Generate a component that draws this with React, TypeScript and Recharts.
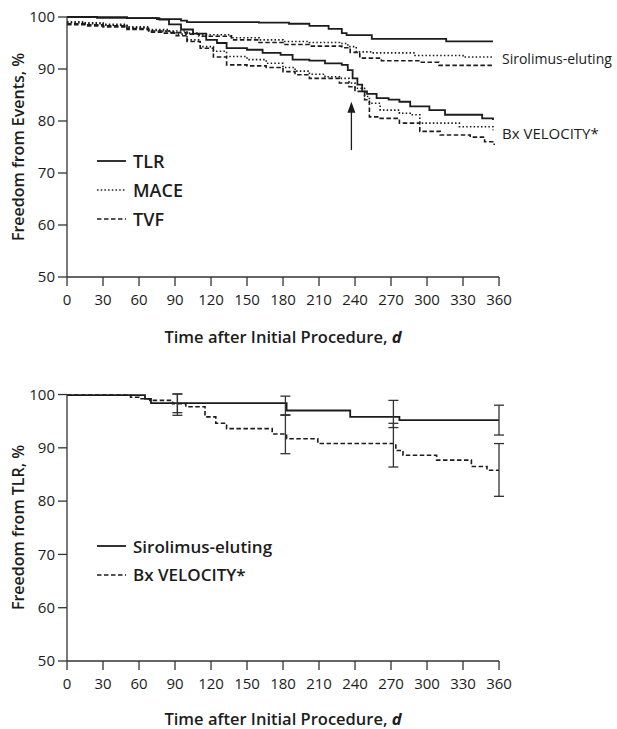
import { LineChart, Line, XAxis, YAxis, Scatter, ErrorBar, Legend, ReferenceLine, ReferenceDot } from 'recharts'

type Pt = [number, number]

// top panel: Kaplan-Meier freedom from events, %
const sirTlr: Pt[] = [[0, 100], [25, 99.9], [50, 99.8], [75, 99.6], [95, 99.3], [100, 99.0], [160, 98.9], [185, 98.7], [202, 98.3], [218, 97.7], [229, 96.9], [233, 96.5], [254, 95.8], [316, 95.3], [355, 95.3]]
const sirMace: Pt[] = [[0, 99.1], [15, 98.9], [30, 98.6], [50, 98.1], [68, 97.6], [85, 97.3], [100, 96.9], [110, 96.6], [137, 96.0], [160, 95.6], [180, 95.3], [202, 95.1], [227, 94.9], [234, 94.3], [241, 93.3], [254, 93.1], [290, 92.6], [330, 92.3], [355, 92.1]]
const sirTvf: Pt[] = [[0, 98.7], [15, 98.5], [30, 98.3], [50, 97.8], [68, 97.3], [85, 97.0], [100, 96.7], [110, 96.3], [137, 95.6], [160, 95.1], [180, 94.7], [202, 94.4], [229, 94.1], [236, 93.2], [244, 92.1], [262, 91.6], [294, 91.3], [310, 90.7], [355, 90.5]]
const bxTlr: Pt[] = [[0, 100], [25, 99.9], [50, 99.8], [77, 99.5], [85, 98.6], [95, 97.6], [105, 96.8], [116, 95.6], [125, 95.0], [133, 94.0], [150, 93.7], [163, 93.1], [178, 92.7], [188, 91.8], [202, 91.6], [215, 91.1], [229, 90.8], [234, 89.8], [238, 88.2], [242, 87.0], [246, 85.7], [250, 85.2], [258, 84.4], [268, 84.1], [277, 83.7], [286, 82.8], [302, 82.1], [315, 81.2], [331, 81.2], [346, 80.5], [355, 80.2]]
const bxMace: Pt[] = [[0, 98.9], [15, 98.7], [30, 98.4], [50, 97.9], [68, 97.4], [80, 97.2], [91, 96.7], [100, 95.6], [111, 94.3], [122, 93.4], [133, 92.4], [150, 91.8], [166, 91.1], [180, 90.3], [190, 89.6], [202, 89.0], [215, 88.5], [227, 88.2], [235, 87.3], [240, 86.3], [248, 84.7], [252, 83.4], [261, 82.1], [277, 81.5], [286, 81.2], [294, 79.6], [327, 78.9], [355, 78.2]]
const bxTvf: Pt[] = [[0, 98.5], [15, 98.3], [30, 98.1], [50, 97.6], [68, 97.1], [80, 96.9], [91, 96.4], [100, 95.3], [111, 94.0], [122, 92.3], [133, 90.8], [150, 90.6], [166, 90.3], [180, 89.5], [190, 88.9], [202, 88.2], [227, 87.3], [235, 86.6], [240, 85.7], [248, 84.1], [252, 80.8], [261, 80.5], [277, 79.6], [294, 78.0], [311, 77.3], [336, 76.9], [348, 76.0], [356, 75.4]]

// bottom panel: freedom from TLR, %
const sirTlr2: Pt[] = [[0, 99.9], [65, 99.2], [70, 98.4], [183, 97.0], [236, 95.8], [277, 95.2], [360, 95.2]]
const bxTlr2: Pt[] = [[0, 99.9], [53, 99.5], [60, 99.2], [69, 98.9], [88, 98.3], [99, 97.7], [115, 95.8], [124, 94.6], [133, 93.6], [171, 92.6], [183, 91.7], [209, 90.8], [274, 89.5], [280, 88.6], [308, 87.7], [337, 86.5], [350, 85.8], [360, 85.8]]

// confidence bars in the bottom panel
const ciDays = [92, 182, 272, 360]
const sirCiVal = [98.4, 98.3, 95.8, 95.2]
const sirCiLo = [96.6, 96.2, 93.8, 92.4]
const sirCiHi = [100.1, 99.7, 98.9, 98.0]
const bxCiVal = [98.3, 92.3, 90.8, 85.8]
const bxCiLo = [96.1, 88.9, 86.4, 80.9]
const bxCiHi = [100.1, 96.1, 94.6, 90.8]

const xTicks = [0, 30, 60, 90, 120, 150, 180, 210, 240, 270, 300, 330, 360]
const yTicks = [50, 60, 70, 80, 90, 100]

const topLegendNames = ['TLR', 'MACE', 'TVF']
const groupNames = ['Sirolimus-eluting', 'Bx VELOCITY*']

// arrow marking day 240
const arrowDay = 237
const arrowTail = 74.4
const arrowTip = 83.7

const FONT = '"Open Sans", "Noto Sans", sans-serif'
const INK = '#1c1c1c'
const AXIS = '#333'
const SOLID = { strokeWidth: 1.8 }
const DOTTED = { strokeWidth: 1.6, strokeDasharray: '1.5 2.2' }
const DASHED = { strokeWidth: 1.6, strokeDasharray: '4.5 2.5' }

const toRows = (pts: Pt[]) => pts.map(([day, v]) => ({ day, v }))
const ciRows = (val: number[], lo: number[], hi: number[]) =>
  ciDays.map((day, i) => ({ day, v: val[i], err: [val[i] - lo[i], hi[i] - val[i]] }))

function LegendBlock({ items, rowH, size }: { items: { label: string; style: any }[]; rowH: number; size: number }) {
  return (
    <div style={{ fontFamily: FONT }}>
      {items.map(it => (
        <div key={it.label} style={{ display: 'flex', alignItems: 'center', height: rowH }}>
          <svg width={29} height={6}>
            <line x1={0} y1={3} x2={29} y2={3} stroke={INK} {...it.style} />
          </svg>
          <span style={{ marginLeft: 7, fontSize: size, fontWeight: 600, color: INK }}>{it.label}</span>
        </div>
      ))}
    </div>
  )
}

const xTitle = (offset: number) => (props: any) => {
  const { x, y, width } = props.viewBox
  return (
    <text x={x + width / 2} y={y + offset} textAnchor="middle" dominantBaseline="central"
      fontFamily={FONT} fontSize={16.5} fontWeight={600} fill={INK}>
      Time after Initial Procedure, <tspan fontStyle="italic" fontWeight={700}>d</tspan>
    </text>
  )
}

const yTitle = (text: string) => (props: any) => {
  const { y, height } = props.viewBox
  const cy = y + height / 2
  return (
    <text x={18} y={cy} transform={`rotate(-90, 18, ${cy})`} textAnchor="middle" dominantBaseline="central"
      fontFamily={FONT} fontSize={16} fontWeight={600} fill={INK}>
      {text}
    </text>
  )
}

const endLabel = (text: string, last: number, dy: number, size: number) => (props: any) => {
  if (props.index !== last) return null
  return (
    <text x={props.x + 9} y={props.y + dy} dominantBaseline="central"
      fontFamily={FONT} fontSize={size} fontWeight={500} fill={INK}>
      {text}
    </text>
  )
}

const tickStyle = { fill: INK, fontSize: 15, fontFamily: FONT }
const axisLine = { stroke: AXIS, strokeWidth: 1.3 }

export default function App() {
  const lineProps = { type: 'stepAfter' as const, dataKey: 'v', stroke: INK, dot: false, isAnimationActive: false, activeDot: false }
  const topLegend = topLegendNames.map((label, i) => ({ label, style: [SOLID, DOTTED, DASHED][i] }))
  const botLegend = groupNames.map((label, i) => ({ label, style: [SOLID, DASHED][i] }))

  return (
    <div style={{ position: 'absolute', left: 0, top: 0, width: 617, height: 729, background: '#fff' }}>
      <div style={{ position: 'absolute', left: 0, top: 0 }}>
        <LineChart width={617} height={350} margin={{ top: 17, right: 118, bottom: 0, left: 0 }}>
          <XAxis type="number" dataKey="day" domain={[0, 360]} ticks={xTicks} tick={tickStyle}
            tickSize={9} tickMargin={8} axisLine={axisLine} tickLine={axisLine}
            height={73} label={xTitle(59)} />
          <YAxis type="number" domain={[50, 100]} ticks={yTicks} tick={tickStyle} width={67}
            tickSize={9} tickMargin={3} axisLine={axisLine} tickLine={axisLine}
            label={yTitle('Freedom from Events, %')} />
          <Line {...lineProps} data={toRows(sirTlr)} {...SOLID} />
          <Line {...lineProps} data={toRows(sirMace)} {...DOTTED}
            label={endLabel(groupNames[0], sirMace.length - 1, 0, 14)} />
          <Line {...lineProps} data={toRows(sirTvf)} {...DASHED} />
          <Line {...lineProps} data={toRows(bxTlr)} {...SOLID} />
          <Line {...lineProps} data={toRows(bxMace)} {...DOTTED}
            label={endLabel(groupNames[1], bxMace.length - 1, 3, 15)} />
          <Line {...lineProps} data={toRows(bxTvf)} {...DASHED} />
          <ReferenceLine segment={[{ x: arrowDay, y: arrowTail }, { x: arrowDay, y: arrowTip - 1.5 }]} stroke={INK} strokeWidth={1.3} />
          <ReferenceDot x={arrowDay} y={arrowTip} r={1}
            shape={(p: any) => <path d={`M${p.cx},${p.cy} L${p.cx - 4},${p.cy + 11} L${p.cx + 4},${p.cy + 11} Z`} fill={INK} />} />
          <Legend layout="horizontal" verticalAlign="middle" align="center"
            wrapperStyle={{ left: 97, top: 146, width: 'auto', height: 'auto' }}
            content={() => <LegendBlock items={topLegend} rowH={29} size={18} />} />
        </LineChart>
      </div>
      <div style={{ position: 'absolute', left: 0, top: 377 }}>
        <LineChart width={617} height={352} margin={{ top: 17, right: 118, bottom: 0, left: 0 }}>
          <XAxis type="number" dataKey="day" domain={[0, 360]} ticks={xTicks} tick={tickStyle}
            tickSize={9} tickMargin={8} axisLine={axisLine} tickLine={axisLine}
            height={68} label={xTitle(57)} />
          <YAxis type="number" domain={[50, 100]} ticks={yTicks} tick={tickStyle} width={67}
            tickSize={9} tickMargin={3} axisLine={axisLine} tickLine={axisLine}
            label={yTitle('Freedom from TLR, %')} />
          <Line {...lineProps} data={toRows(sirTlr2)} {...SOLID} />
          <Line {...lineProps} data={toRows(bxTlr2)} {...DASHED} />
          <Scatter data={ciRows(sirCiVal, sirCiLo, sirCiHi)} dataKey="v" isAnimationActive={false} legendType="none" shape={() => <g />}>
            <ErrorBar dataKey="err" direction="y" width={5} stroke={AXIS} strokeWidth={1.3} isAnimationActive={false} />
          </Scatter>
          <Scatter data={ciRows(bxCiVal, bxCiLo, bxCiHi)} dataKey="v" isAnimationActive={false} legendType="none" shape={() => <g />}>
            <ErrorBar dataKey="err" direction="y" width={5} stroke={AXIS} strokeWidth={1.3} isAnimationActive={false} />
          </Scatter>
          <Legend layout="horizontal" verticalAlign="middle" align="center"
            wrapperStyle={{ left: 97, top: 155, width: 'auto', height: 'auto' }}
            content={() => <LegendBlock items={botLegend} rowH={28.5} size={17} />} />
        </LineChart>
      </div>
    </div>
  )
}
